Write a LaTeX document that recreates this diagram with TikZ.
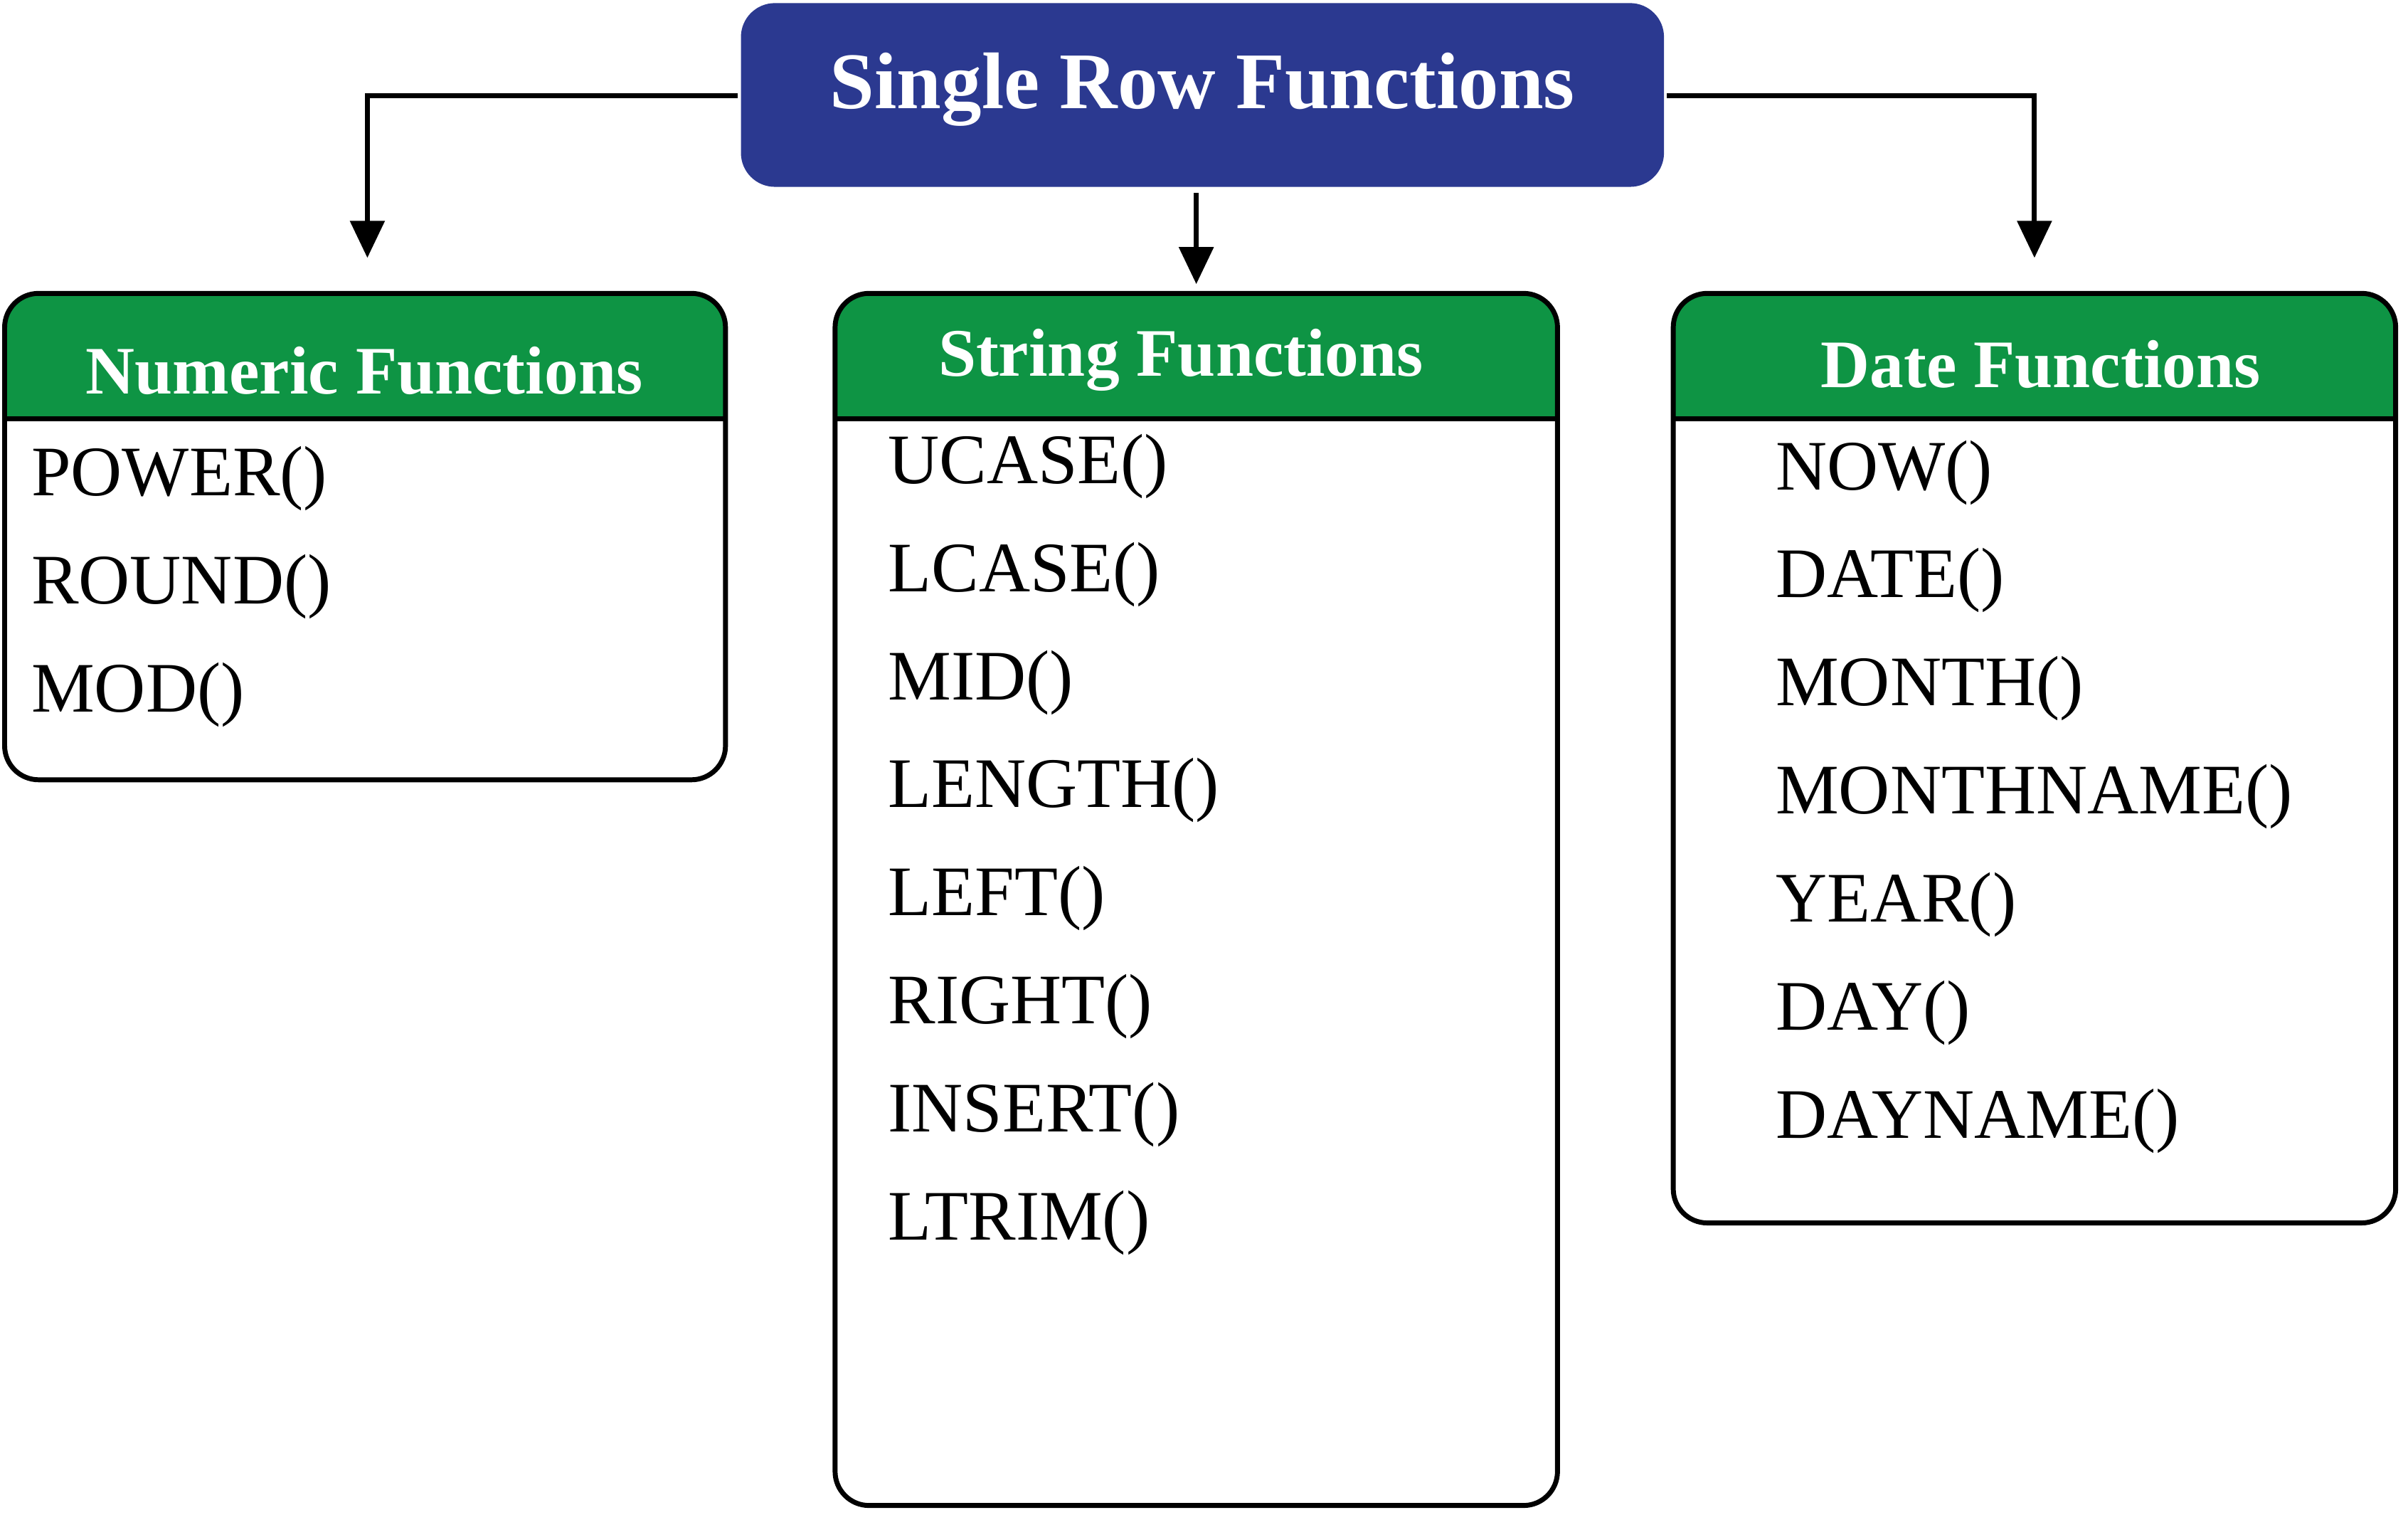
\documentclass[tikz,border=0pt]{standalone}
\usepackage{fontspec}
\setmainfont{Liberation Serif}
\usetikzlibrary{arrows.meta}
\definecolor{tblue}{HTML}{2B3990}
\definecolor{tgreen}{HTML}{0E9444}
\tikzset{
 item/.style={anchor=west,font=\fontsize{23}{26}\selectfont,inner sep=0pt},
 head/.style={font=\bfseries\fontsize{22}{26}\selectfont,text=white,inner sep=0pt},
 conn/.style={line width=1.6pt,-{Triangle[length=12pt,width=11pt]}},
}
\newcommand{\catbox}[4]{% x1,x2,y2,name
  \begin{scope}
  \clip[rounded corners=11] (#1,190) rectangle (#2,#3);
  \fill[white] (#1,190) rectangle (#2,#3);
  \fill[tgreen] (#1,190) rectangle (#2,271);
  \end{scope}
  \draw[line width=1.6pt] (#1,271) -- (#2,271);
  \draw[line width=1.6pt,rounded corners=11] (#1,190) rectangle (#2,#3);
}
\begin{document}
\begin{tikzpicture}[x=0.5pt,y=-0.5pt]
\useasboundingbox (0,0) rectangle (1560,981);
\fill[tblue,rounded corners=11] (480,2) rectangle (1078,121);
\node[font=\bfseries\fontsize{26}{30}\selectfont,text=white] (top) at (779,58) {Single Row Functions};
\coordinate (tl) at (478,62);
\coordinate (tr) at (1080,62);
\coordinate (tb) at (775,125);
\catbox{3}{470}{505}{n}
\catbox{541}{1009}{975}{s}
\catbox{1084}{1552}{792}{d}
\node[head] (nh) at (236,240) {Numeric Functions};
\node[head] (sh) at (765,233) {String Functions};
\node[head] (dh) at (1322,236) {Date Functions};
\coordinate (na) at (238,167);
\coordinate (sa) at (775,184);
\coordinate (da) at (1318,167);
\draw[conn] (tl) -| (na);
\draw[conn] (tr) -| (da);
\draw[conn] (tb) -- (sa);
\foreach \t [count=\i] in {POWER(),ROUND(),MOD()}
  \node[item] (n\i) at (20,{240+70*\i}) {\t};
\foreach \t [count=\i] in {UCASE(),LCASE(),MID(),LENGTH(),LEFT(),RIGHT(),INSERT(),LTRIM()}
  \node[item] (s\i) at (575,{232+70*\i}) {\t};
\foreach \t [count=\i] in {NOW(),DATE(),MONTH(),MONTHNAME(),YEAR(),DAY(),DAYNAME()}
  \node[item] (d\i) at (1150,{236+70*\i}) {\t};
\end{tikzpicture}
\end{document}
